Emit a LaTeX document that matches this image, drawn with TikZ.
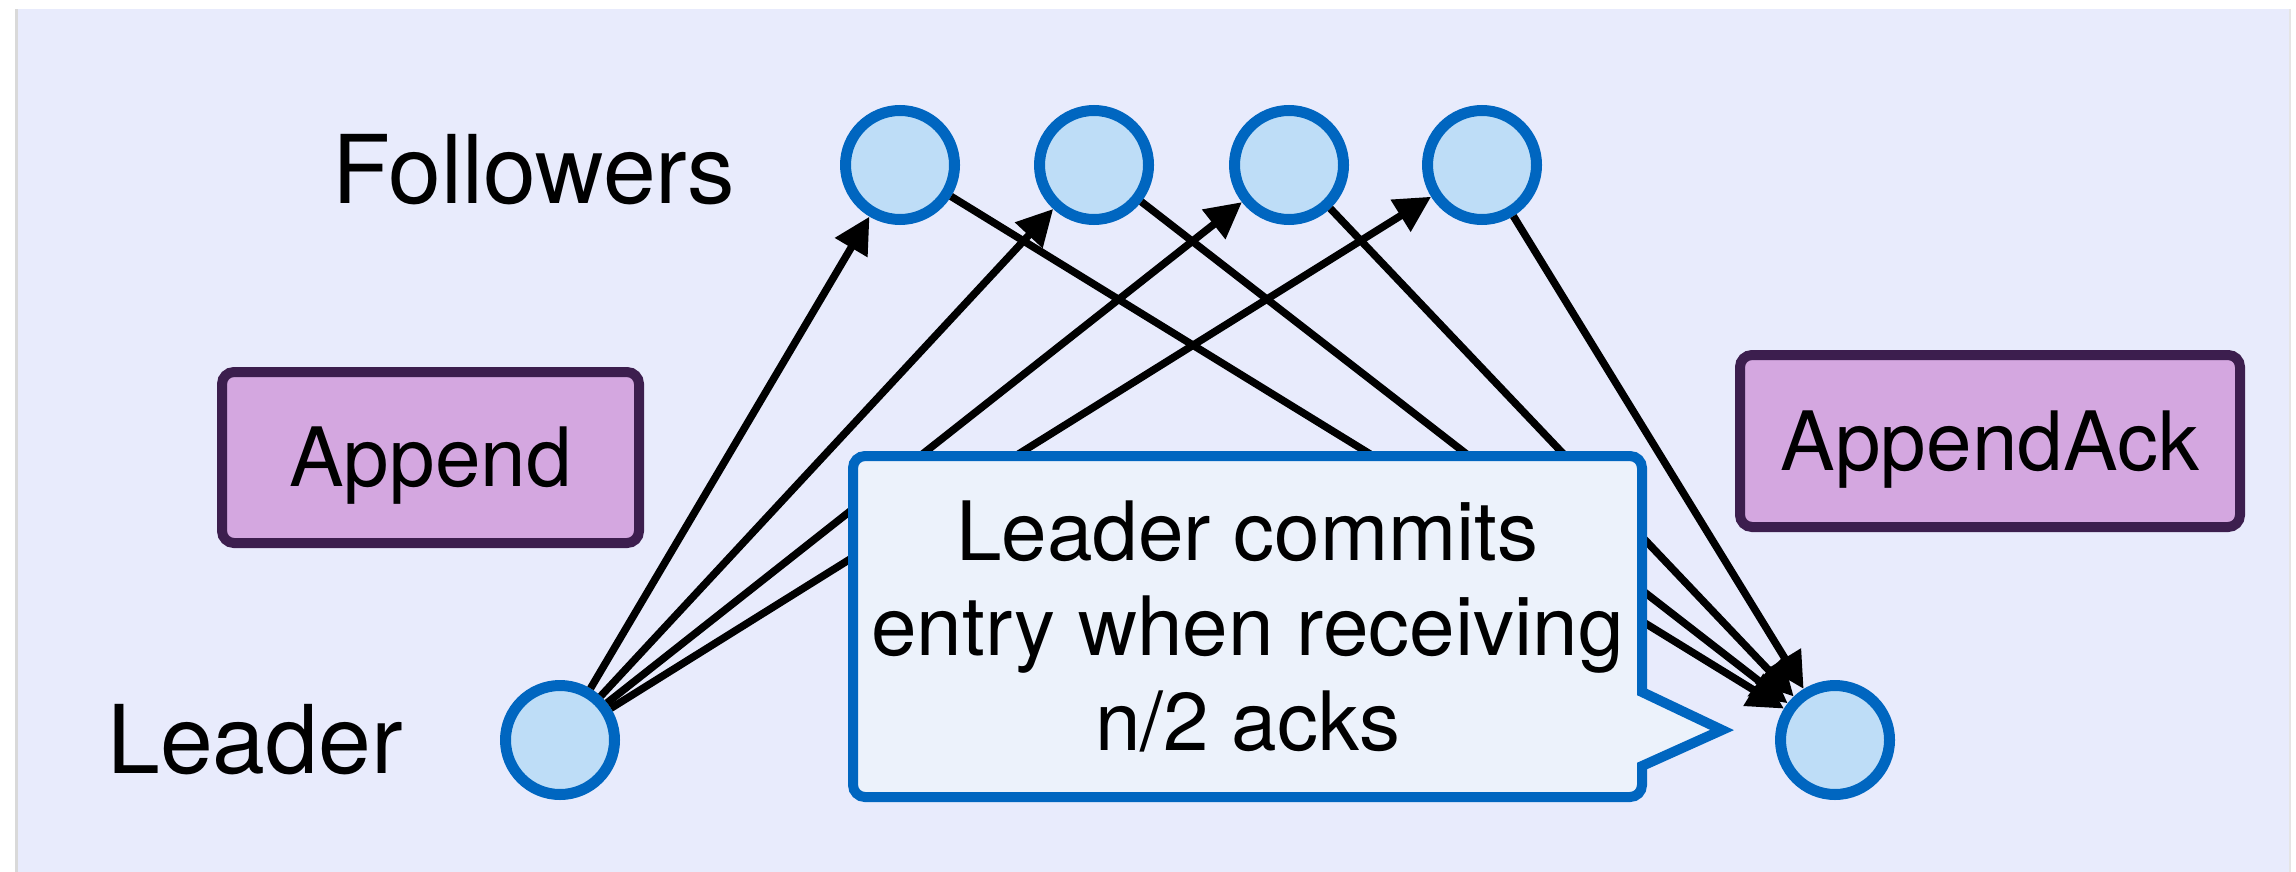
\documentclass[tikz,border=0pt]{standalone}
\usepackage{fontspec}
\setmainfont{TeX Gyre Heros}
\usetikzlibrary{arrows.meta}

\definecolor{panelbg}{RGB}{232,235,252}
\definecolor{nodefill}{RGB}{190,221,247}
\definecolor{nodeblue}{RGB}{0,102,192}
\definecolor{msgfill}{RGB}{212,167,224}
\definecolor{msgedge}{RGB}{60,30,78}
\definecolor{notefill}{RGB}{236,242,251}

\newcommand{\bigfont}{\fontsize{27}{32}\selectfont}
\newcommand{\msgfont}{\fontsize{23.3}{27}\selectfont}

\tikzset{
  server/.style={circle, draw=nodeblue, fill=nodefill, line width=0.11cm, minimum size=1.09cm, inner sep=0pt},
  msgbox/.style={draw=msgedge, fill=msgfill, line width=0.10cm, rounded corners=0.12cm, inner sep=0pt,
    font=\msgfont, text height=0.58cm, text depth=0pt},
  rpc/.style={-{Triangle[length=0.36cm, width=0.36cm]}, line width=0.075cm}
}

\begin{document}
\begin{tikzpicture}
  \useasboundingbox (0,0) rectangle (22.96,8.71);
  % slide panel
  \fill[panelbg] (0.16,-0.2) rectangle (22.90,8.62);
  \draw[gray!30, line width=0.03cm] (0.16,-0.2) -- (0.16,8.62);
  \draw[gray!20, line width=0.02cm] (22.90,-0.2) -- (22.90,8.62);

  % servers
  \node[server] (leader) at (5.60,1.31) {};
  \node[server] (leaderR) at (18.35,1.31) {};
  \foreach \i/\x in {1/9.00, 2/10.94, 3/12.89, 4/14.82}
    \node[server] (f\i) at (\x,7.06) {};

  \node[font=\bigfont, anchor=base] (follabel) at (5.34,6.68) {Followers};
  \node[font=\bigfont, anchor=base] (leadlabel) at (2.55,0.98) {Leader};

  % messages
  \node[msgbox, minimum width=4.17cm, minimum height=1.71cm] (append) at (4.305,4.135) {Append};
  \node[msgbox, minimum width=5.00cm, minimum height=1.72cm] (appendack) at (19.90,4.30) {AppendAck};

  \foreach \i in {1,...,4} {
    \draw[rpc] (leader) -- (f\i);
    \draw[rpc] (f\i) -- (leaderR);
  }

  % note on commit, pointer towards the leader
  \draw[draw=nodeblue, fill=notefill, line width=0.10cm, rounded corners=0.12cm]
    (8.53,4.15) -- (16.42,4.15) -- (16.42,1.95) [sharp corners] -- (16.42,1.79) -- (17.22,1.41)
    -- (16.42,1.05) -- (16.42,0.90) [rounded corners=0.12cm] -- (16.42,0.74) -- (8.53,0.74) -- cycle;
  \node[font=\msgfont, align=center] (commit) at (12.475,2.445)
    {Leader commits\\entry when receiving\\n/2 acks};
\end{tikzpicture}
\end{document}
